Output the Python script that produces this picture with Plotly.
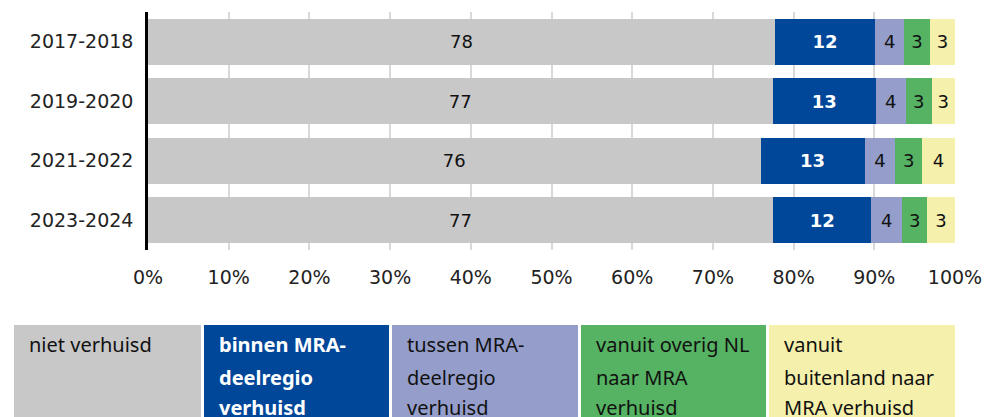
import plotly.graph_objects as go

periods = ["2017-2018", "2019-2020", "2021-2022", "2023-2024"]
series_names = [
    "niet verhuisd",
    "binnen MRA-deelregio verhuisd",
    "tussen MRA-deelregio verhuisd",
    "vanuit overig NL naar MRA verhuisd",
    "vanuit buitenland naar MRA verhuisd",
]
niet_verhuisd = [77.7, 77.4, 75.9, 77.45]
binnen_deelregio = [12.4, 12.8, 12.9, 12.2]
tussen_deelregio = [3.6, 3.7, 3.8, 3.8]
overig_nl = [3.2, 3.2, 3.3, 3.1]
buitenland = [3.1, 2.9, 4.1, 3.45]
series_values = [niet_verhuisd, binnen_deelregio, tussen_deelregio, overig_nl, buitenland]
colors = ["#c8c8c8", "#004699", "#959ecb", "#56b363", "#f5f0ab"]
text_colors = ["#111111", "#ffffff", "#111111", "#111111", "#111111"]
bold = [False, True, False, False, False]
legend_lines = [
    ["niet verhuisd"],
    ["binnen MRA-", "deelregio", "verhuisd"],
    ["tussen MRA-", "deelregio", "verhuisd"],
    ["vanuit overig NL", "naar MRA", "verhuisd"],
    ["vanuit", "buitenland naar", "MRA verhuisd"],
]
x_ticks = [0, 10, 20, 30, 40, 50, 60, 70, 80, 90, 100]
x_ticktext = [f"{v}%" for v in x_ticks]

W, H = 986, 417
ML, MR, MT, MB = 148, 31, 12, 167
PW, PH = W - ML - MR, H - MT - MB

fig = go.Figure()
for name, vals, col, tc, b in zip(series_names, series_values, colors, text_colors, bold):
    fig.add_trace(go.Bar(
        y=periods, x=vals, orientation="h", name=name,
        marker=dict(color=col, line=dict(width=0)),
        texttemplate=("<b>%{x:.0f}</b>" if b else "%{x:.0f}"),
        textposition="inside", insidetextanchor="middle", textangle=0,
        insidetextfont=dict(color=tc, size=18, family="DejaVu Sans"),
        hoverinfo="skip",
    ))

def px_x(p):
    return (p - ML) / PW

def px_y(p):
    return (H - MB - p) / PH

shapes = []
annotations = []
box_edges = [(14, 201), (204, 389), (392, 578), (581, 766), (769, 955)]
line_y = [344, 377, 408]
for i, ((x0, x1), lines) in enumerate(zip(box_edges, legend_lines)):
    shapes.append(dict(type="rect", xref="paper", yref="paper",
                       x0=px_x(x0), x1=px_x(x1), y0=px_y(440), y1=px_y(325),
                       fillcolor=colors[i], line=dict(width=0), layer="below"))
    for j, ln in enumerate(lines):
        annotations.append(dict(
            xref="paper", yref="paper", x=px_x(x0 + 13), y=px_y(line_y[j]),
            xanchor="left", yanchor="middle", showarrow=False,
            text=("<b>%s</b>" % ln) if bold[i] else ln,
            font=dict(family="Noto Sans", size=20, color=text_colors[i]),
        ))

fig.update_layout(
    barmode="stack", bargap=0.235,
    width=W, height=H, margin=dict(l=ML, r=MR, t=MT, b=MB, autoexpand=False),
    paper_bgcolor="white", plot_bgcolor="white",
    showlegend=False,
    uniformtext=dict(minsize=18, mode="show"),
    shapes=shapes, annotations=annotations,
    font=dict(family="DejaVu Sans", size=19, color="#222222"),
)
fig.update_xaxes(range=[0, 100], tickmode="array", tickvals=x_ticks, ticktext=x_ticktext,
                 showgrid=True, gridcolor="#d9d9d9", gridwidth=2, automargin=False,
                 zeroline=False, showline=False, ticks="",
                 ticklabelstandoff=14, tickfont=dict(size=19, family="DejaVu Sans"))
fig.update_yaxes(autorange="reversed", showline=True, linecolor="#000000",
                 linewidth=2.5, ticks="", showgrid=False, automargin=False,
                 ticklabelstandoff=8, tickfont=dict(size=19, family="DejaVu Sans"))

fig.write_html(
    "out.html",
    config={"displayModeBar": False},
    post_script="document.body.style.margin='0';document.body.style.overflow='hidden';",
)
